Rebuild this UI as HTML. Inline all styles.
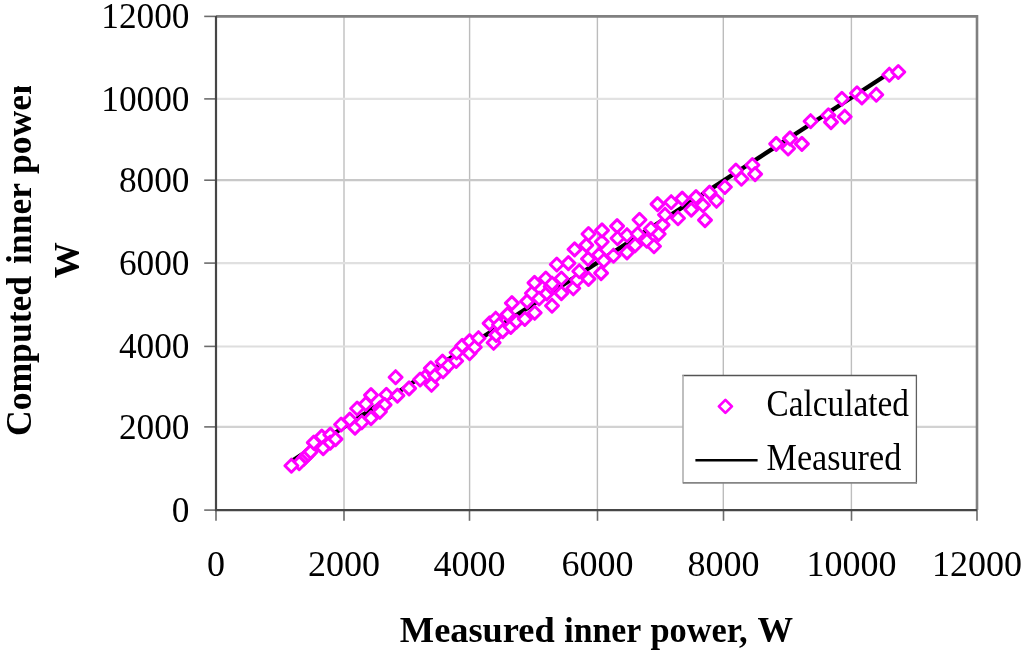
<!DOCTYPE html>
<html><head><meta charset="utf-8"><style>
html,body{margin:0;padding:0;background:#fff;}
body{width:1024px;height:655px;overflow:hidden;position:relative;}
svg{position:absolute;left:0;top:0;}
text{font-family:"Liberation Serif","Times New Roman",serif;}
</style></head><body>
<svg width="1024" height="655" viewBox="0 0 1024 655">
<rect x="0" y="0" width="1024" height="655" fill="#fff"/>

<line x1="344.0" y1="16.4" x2="344.0" y2="510" stroke="#d2d2d2" stroke-width="2.0"/>
<line x1="469.6" y1="16.4" x2="469.6" y2="510" stroke="#bcbcbc" stroke-width="1.4"/>
<line x1="597.4" y1="16.4" x2="597.4" y2="510" stroke="#bcbcbc" stroke-width="1.4"/>
<line x1="723.3" y1="16.4" x2="723.3" y2="510" stroke="#bcbcbc" stroke-width="1.4"/>
<line x1="851.4" y1="16.4" x2="851.4" y2="510" stroke="#bebebe" stroke-width="1.4"/>
<line x1="216" y1="426.9" x2="977" y2="426.9" stroke="#d2d2d2" stroke-width="2.4"/>
<line x1="216" y1="346.4" x2="977" y2="346.4" stroke="#dedede" stroke-width="2"/>
<line x1="216" y1="263.1" x2="977" y2="263.1" stroke="#e0e0e0" stroke-width="2.2"/>
<line x1="216" y1="180.2" x2="977" y2="180.2" stroke="#c8c8c8" stroke-width="2.2"/>
<line x1="216" y1="98.9" x2="977" y2="98.9" stroke="#e2e2e2" stroke-width="2.2"/>
<polyline points="216,16.4 977,16.4 977,510" fill="none" stroke="#808080" stroke-width="2.6"/>
<line x1="204.2" y1="510.1" x2="216" y2="510.1" stroke="#6c6c6c" stroke-width="1.6"/>
<line x1="204.2" y1="426.9" x2="216" y2="426.9" stroke="#6c6c6c" stroke-width="1.6"/>
<line x1="204.2" y1="346.4" x2="216" y2="346.4" stroke="#6c6c6c" stroke-width="1.6"/>
<line x1="204.2" y1="263.1" x2="216" y2="263.1" stroke="#6c6c6c" stroke-width="1.6"/>
<line x1="204.2" y1="180.2" x2="216" y2="180.2" stroke="#6c6c6c" stroke-width="1.6"/>
<line x1="204.2" y1="98.9" x2="216" y2="98.9" stroke="#6c6c6c" stroke-width="1.6"/>
<line x1="204.2" y1="16.4" x2="216" y2="16.4" stroke="#6c6c6c" stroke-width="1.6"/>
<line x1="216" y1="510" x2="216" y2="520.8" stroke="#6c6c6c" stroke-width="1.6"/>
<line x1="344" y1="510" x2="344" y2="520.8" stroke="#6c6c6c" stroke-width="1.6"/>
<line x1="469.5" y1="510" x2="469.5" y2="520.8" stroke="#6c6c6c" stroke-width="1.6"/>
<line x1="597.5" y1="510" x2="597.5" y2="520.8" stroke="#6c6c6c" stroke-width="1.6"/>
<line x1="723.5" y1="510" x2="723.5" y2="520.8" stroke="#6c6c6c" stroke-width="1.6"/>
<line x1="851.5" y1="510" x2="851.5" y2="520.8" stroke="#6c6c6c" stroke-width="1.6"/>
<line x1="977" y1="510" x2="977" y2="520.8" stroke="#6c6c6c" stroke-width="1.6"/>
<line x1="216" y1="16" x2="216" y2="511" stroke="#464646" stroke-width="2.2"/>
<line x1="215" y1="510.1" x2="977" y2="510.1" stroke="#464646" stroke-width="2.2"/>
<line x1="291" y1="461.5" x2="884" y2="76.5" stroke="#000" stroke-width="4.4"/>
<g fill="#fff" stroke="#ff00ff" stroke-width="3" stroke-linejoin="round"><path d="M303.8 452.1L310.3 458.6L303.8 465.1L297.3 458.6Z"/>
<path d="M306.0 449.9L312.5 456.4L306.0 462.9L299.5 456.4Z"/>
<path d="M308.2 447.7L314.7 454.2L308.2 460.7L301.7 454.2Z"/>
<path d="M310.6 445.4L317.1 451.9L310.6 458.4L304.1 451.9Z"/>
<path d="M299.2 456.7L305.7 463.2L299.2 469.7L292.7 463.2Z"/>
<path d="M291.4 459.2L297.9 465.7L291.4 472.2L284.9 465.7Z"/>
<path d="M313.8 436.1L320.3 442.6L313.8 449.1L307.3 442.6Z"/>
<path d="M321.8 430.1L328.3 436.6L321.8 443.1L315.3 436.6Z"/>
<path d="M323.2 441.6L329.7 448.1L323.2 454.6L316.7 448.1Z"/>
<path d="M330.3 428.1L336.8 434.6L330.3 441.1L323.8 434.6Z"/>
<path d="M330.3 436.1L336.8 442.6L330.3 449.1L323.8 442.6Z"/>
<path d="M335.5 432.6L342.0 439.1L335.5 445.6L329.0 439.1Z"/>
<path d="M341.1 418.0L347.6 424.5L341.1 431.0L334.6 424.5Z"/>
<path d="M349.8 413.1L356.3 419.6L349.8 426.1L343.3 419.6Z"/>
<path d="M355.0 421.1L361.5 427.6L355.0 434.1L348.5 427.6Z"/>
<path d="M357.1 402.0L363.6 408.5L357.1 415.0L350.6 408.5Z"/>
<path d="M361.8 415.8L368.3 422.3L361.8 428.8L355.3 422.3Z"/>
<path d="M365.8 397.5L372.3 404.0L365.8 410.5L359.3 404.0Z"/>
<path d="M371.0 388.6L377.5 395.1L371.0 401.6L364.5 395.1Z"/>
<path d="M371.0 411.6L377.5 418.1L371.0 424.6L364.5 418.1Z"/>
<path d="M379.8 401.8L386.3 408.3L379.8 414.8L373.3 408.3Z"/>
<path d="M382.2 400.1L388.7 406.6L382.2 413.1L375.7 406.6Z"/>
<path d="M386.4 388.3L392.9 394.8L386.4 401.3L379.9 394.8Z"/>
<path d="M384.6 398.4L391.1 404.9L384.6 411.4L378.1 404.9Z"/>
<path d="M379.9 405.3L386.4 411.8L379.9 418.3L373.4 411.8Z"/>
<path d="M395.6 370.7L402.1 377.2L395.6 383.7L389.1 377.2Z"/>
<path d="M397.4 389.1L403.9 395.6L397.4 402.1L390.9 395.6Z"/>
<path d="M409.1 381.9L415.6 388.4L409.1 394.9L402.6 388.4Z"/>
<path d="M425.0 370.5L431.5 377.0L425.0 383.5L418.5 377.0Z"/>
<path d="M420.1 373.0L426.6 379.5L420.1 386.0L413.6 379.5Z"/>
<path d="M430.8 361.8L437.3 368.3L430.8 374.8L424.3 368.3Z"/>
<path d="M431.5 378.3L438.0 384.8L431.5 391.3L425.0 384.8Z"/>
<path d="M435.1 369.1L441.6 375.6L435.1 382.1L428.6 375.6Z"/>
<path d="M442.5 355.1L449.0 361.6L442.5 368.1L436.0 361.6Z"/>
<path d="M443.0 364.8L449.5 371.3L443.0 377.8L436.5 371.3Z"/>
<path d="M448.4 359.0L454.9 365.5L448.4 372.0L441.9 365.5Z"/>
<path d="M456.2 354.5L462.7 361.0L456.2 367.5L449.7 361.0Z"/>
<path d="M456.6 346.0L463.1 352.5L456.6 359.0L450.1 352.5Z"/>
<path d="M462.2 339.3L468.7 345.8L462.2 352.3L455.7 345.8Z"/>
<path d="M469.6 334.6L476.1 341.1L469.6 347.6L463.1 341.1Z"/>
<path d="M469.6 346.7L476.1 353.2L469.6 359.7L463.1 353.2Z"/>
<path d="M474.8 340.8L481.3 347.3L474.8 353.8L468.3 347.3Z"/>
<path d="M478.5 331.7L485.0 338.2L478.5 344.7L472.0 338.2Z"/>
<path d="M489.6 316.9L496.1 323.4L489.6 329.9L483.1 323.4Z"/>
<path d="M493.6 336.3L500.1 342.8L493.6 349.3L487.1 342.8Z"/>
<path d="M495.7 312.2L502.2 318.7L495.7 325.2L489.2 318.7Z"/>
<path d="M496.2 328.4L502.7 334.9L496.2 341.4L489.7 334.9Z"/>
<path d="M499.0 318.3L505.5 324.8L499.0 331.3L492.5 324.8Z"/>
<path d="M502.7 324.6L509.2 331.1L502.7 337.6L496.2 331.1Z"/>
<path d="M507.6 307.9L514.1 314.4L507.6 320.9L501.1 314.4Z"/>
<path d="M510.8 320.4L517.3 326.9L510.8 333.4L504.3 326.9Z"/>
<path d="M511.9 296.6L518.4 303.1L511.9 309.6L505.4 303.1Z"/>
<path d="M516.5 315.1L523.0 321.6L516.5 328.1L510.0 321.6Z"/>
<path d="M524.8 312.5L531.3 319.0L524.8 325.5L518.3 319.0Z"/>
<path d="M527.1 294.9L533.6 301.4L527.1 307.9L520.6 301.4Z"/>
<path d="M531.9 286.8L538.4 293.3L531.9 299.8L525.4 293.3Z"/>
<path d="M534.5 276.4L541.0 282.9L534.5 289.4L528.0 282.9Z"/>
<path d="M534.7 306.3L541.2 312.8L534.7 319.3L528.2 312.8Z"/>
<path d="M539.1 292.0L545.6 298.5L539.1 305.0L532.6 298.5Z"/>
<path d="M545.8 272.0L552.3 278.5L545.8 285.0L539.3 278.5Z"/>
<path d="M546.8 286.9L553.3 293.4L546.8 299.9L540.3 293.4Z"/>
<path d="M550.7 280.1L557.2 286.6L550.7 293.1L544.2 286.6Z"/>
<path d="M552.0 299.2L558.5 305.7L552.0 312.2L545.5 305.7Z"/>
<path d="M552.1 277.2L558.6 283.7L552.1 290.2L545.6 283.7Z"/>
<path d="M556.8 258.0L563.3 264.5L556.8 271.0L550.3 264.5Z"/>
<path d="M561.4 272.0L567.9 278.5L561.4 285.0L554.9 278.5Z"/>
<path d="M561.4 286.6L567.9 293.1L561.4 299.6L554.9 293.1Z"/>
<path d="M568.4 256.6L574.9 263.1L568.4 269.6L561.9 263.1Z"/>
<path d="M573.3 281.8L579.8 288.3L573.3 294.8L566.8 288.3Z"/>
<path d="M574.6 242.9L581.1 249.4L574.6 255.9L568.1 249.4Z"/>
<path d="M577.2 273.5L583.7 280.0L577.2 286.5L570.7 280.0Z"/>
<path d="M579.3 264.7L585.8 271.2L579.3 277.7L572.8 271.2Z"/>
<path d="M586.3 238.6L592.8 245.1L586.3 251.6L579.8 245.1Z"/>
<path d="M588.1 252.4L594.6 258.9L588.1 265.4L581.6 258.9Z"/>
<path d="M588.5 227.5L595.0 234.0L588.5 240.5L582.0 234.0Z"/>
<path d="M588.5 272.4L595.0 278.9L588.5 285.4L582.0 278.9Z"/>
<path d="M599.0 248.4L605.5 254.9L599.0 261.4L592.5 254.9Z"/>
<path d="M601.1 266.6L607.6 273.1L601.1 279.6L594.6 273.1Z"/>
<path d="M601.8 235.3L608.3 241.8L601.8 248.3L595.3 241.8Z"/>
<path d="M602.0 223.9L608.5 230.4L602.0 236.9L595.5 230.4Z"/>
<path d="M603.8 254.3L610.3 260.8L603.8 267.3L597.3 260.8Z"/>
<path d="M613.5 249.2L620.0 255.7L613.5 262.2L607.0 255.7Z"/>
<path d="M617.1 219.6L623.6 226.1L617.1 232.6L610.6 226.1Z"/>
<path d="M617.5 231.8L624.0 238.3L617.5 244.8L611.0 238.3Z"/>
<path d="M627.0 228.7L633.5 235.2L627.0 241.7L620.5 235.2Z"/>
<path d="M627.0 245.9L633.5 252.4L627.0 258.9L620.5 252.4Z"/>
<path d="M635.1 238.8L641.6 245.3L635.1 251.8L628.6 245.3Z"/>
<path d="M637.6 227.5L644.1 234.0L637.6 240.5L631.1 234.0Z"/>
<path d="M639.5 213.3L646.0 219.8L639.5 226.3L633.0 219.8Z"/>
<path d="M646.8 234.2L653.3 240.7L646.8 247.2L640.3 240.7Z"/>
<path d="M650.9 222.3L657.4 228.8L650.9 235.3L644.4 228.8Z"/>
<path d="M654.0 239.7L660.5 246.2L654.0 252.7L647.5 246.2Z"/>
<path d="M657.5 197.6L664.0 204.1L657.5 210.6L651.0 204.1Z"/>
<path d="M658.7 227.5L665.2 234.0L658.7 240.5L652.2 234.0Z"/>
<path d="M662.6 218.4L669.1 224.9L662.6 231.4L656.1 224.9Z"/>
<path d="M665.0 208.2L671.5 214.7L665.0 221.2L658.5 214.7Z"/>
<path d="M671.2 195.7L677.7 202.2L671.2 208.7L664.7 202.2Z"/>
<path d="M678.0 211.7L684.5 218.2L678.0 224.7L671.5 218.2Z"/>
<path d="M682.2 192.1L688.7 198.6L682.2 205.1L675.7 198.6Z"/>
<path d="M691.3 203.1L697.8 209.6L691.3 216.1L684.8 209.6Z"/>
<path d="M696.0 190.6L702.5 197.1L696.0 203.6L689.5 197.1Z"/>
<path d="M703.0 198.7L709.5 205.2L703.0 211.7L696.5 205.2Z"/>
<path d="M705.0 213.6L711.5 220.1L705.0 226.6L698.5 220.1Z"/>
<path d="M709.6 186.1L716.1 192.6L709.6 199.1L703.1 192.6Z"/>
<path d="M716.5 194.3L723.0 200.8L716.5 207.3L710.0 200.8Z"/>
<path d="M724.9 180.5L731.4 187.0L724.9 193.5L718.4 187.0Z"/>
<path d="M735.9 164.0L742.4 170.5L735.9 177.0L729.4 170.5Z"/>
<path d="M741.4 172.2L747.9 178.7L741.4 185.2L734.9 178.7Z"/>
<path d="M752.4 158.5L758.9 165.0L752.4 171.5L745.9 165.0Z"/>
<path d="M755.1 167.6L761.6 174.1L755.1 180.6L748.6 174.1Z"/>
<path d="M776.2 137.4L782.7 143.9L776.2 150.4L769.7 143.9Z"/>
<path d="M788.1 142.0L794.6 148.5L788.1 155.0L781.6 148.5Z"/>
<path d="M790.0 131.9L796.5 138.4L790.0 144.9L783.5 138.4Z"/>
<path d="M801.9 137.4L808.4 143.9L801.9 150.4L795.4 143.9Z"/>
<path d="M810.6 114.7L817.1 121.2L810.6 127.7L804.1 121.2Z"/>
<path d="M828.4 108.8L834.9 115.3L828.4 121.8L821.9 115.3Z"/>
<path d="M831.0 115.6L837.5 122.1L831.0 128.6L824.5 122.1Z"/>
<path d="M841.9 92.3L848.4 98.8L841.9 105.3L835.4 98.8Z"/>
<path d="M844.7 110.2L851.2 116.7L844.7 123.2L838.2 116.7Z"/>
<path d="M857.0 86.8L863.5 93.3L857.0 99.8L850.5 93.3Z"/>
<path d="M861.9 90.9L868.4 97.4L861.9 103.9L855.4 97.4Z"/>
<path d="M876.3 88.2L882.8 94.7L876.3 101.2L869.8 94.7Z"/>
<path d="M889.3 68.2L895.8 74.7L889.3 81.2L882.8 74.7Z"/>
<path d="M898.3 65.5L904.8 72.0L898.3 78.5L891.8 72.0Z"/></g>
<text transform="translate(189.5,521.9) scale(0.98,1)" font-size="36" text-anchor="end">0</text>
<text transform="translate(189.5,438.7) scale(0.98,1)" font-size="36" text-anchor="end">2000</text>
<text transform="translate(189.5,358.2) scale(0.98,1)" font-size="36" text-anchor="end">4000</text>
<text transform="translate(189.5,274.9) scale(0.98,1)" font-size="36" text-anchor="end">6000</text>
<text transform="translate(189.5,192.0) scale(0.98,1)" font-size="36" text-anchor="end">8000</text>
<text transform="translate(189.5,110.7) scale(0.98,1)" font-size="36" text-anchor="end">10000</text>
<text transform="translate(189.5,28.2) scale(0.98,1)" font-size="36" text-anchor="end">12000</text>
<text x="216" y="575.8" font-size="36" text-anchor="middle">0</text>
<text x="344" y="575.8" font-size="36" text-anchor="middle">2000</text>
<text x="469.5" y="575.8" font-size="36" text-anchor="middle">4000</text>
<text x="597.5" y="575.8" font-size="36" text-anchor="middle">6000</text>
<text x="723.5" y="575.8" font-size="36" text-anchor="middle">8000</text>
<text x="851.5" y="575.8" font-size="36" text-anchor="middle">10000</text>
<text x="977" y="575.8" font-size="36" text-anchor="middle">12000</text>
<g font-size="35.6" font-weight="bold"><text transform="translate(399.8,641.8) scale(1.022,1)">Measured</text><text transform="translate(564.3,641.8) scale(0.95,1)">inner</text><text transform="translate(650.5,641.8) scale(0.965,1)">power,</text><text transform="translate(757.5,641.8) scale(1.0,1)">W</text></g>
<clipPath id="yc"><rect x="0" y="86" width="200" height="569"/></clipPath>
<g clip-path="url(#yc)" font-size="35.6" font-weight="bold"><text transform="translate(31.3,436) rotate(-90)">Computed</text><text transform="translate(31.3,264) rotate(-90)">inner</text><text transform="translate(31.3,174) rotate(-90)">power</text></g>
<text transform="translate(78.7,260.3) rotate(-90)" font-size="36" font-weight="bold" text-anchor="middle">W</text>
<rect x="683" y="375.5" width="233.4" height="107.3" fill="#fff"/>
<line x1="682.3" y1="375.5" x2="917" y2="375.5" stroke="#555" stroke-width="1.3"/>
<line x1="683" y1="375" x2="683" y2="483.5" stroke="#aaa" stroke-width="1.5"/>
<line x1="916.4" y1="375" x2="916.4" y2="483.5" stroke="#606060" stroke-width="1.3"/>
<line x1="683" y1="482.8" x2="917" y2="482.8" stroke="#858585" stroke-width="1.7"/>
<path d="M725.4 399.9L731.9 406.4L725.4 412.9L718.9 406.4Z" fill="none" stroke="#ff00ff" stroke-width="2.75" stroke-linejoin="round"/>
<line x1="695.4" y1="460.2" x2="757.6" y2="460.2" stroke="#000" stroke-width="2.5"/>
<text transform="translate(766.5,416.4) scale(0.9,1)" font-size="37">Calculated</text>
<text transform="translate(766.5,470.2) scale(0.924,1)" font-size="37">Measured</text>
</svg>
</body></html>
